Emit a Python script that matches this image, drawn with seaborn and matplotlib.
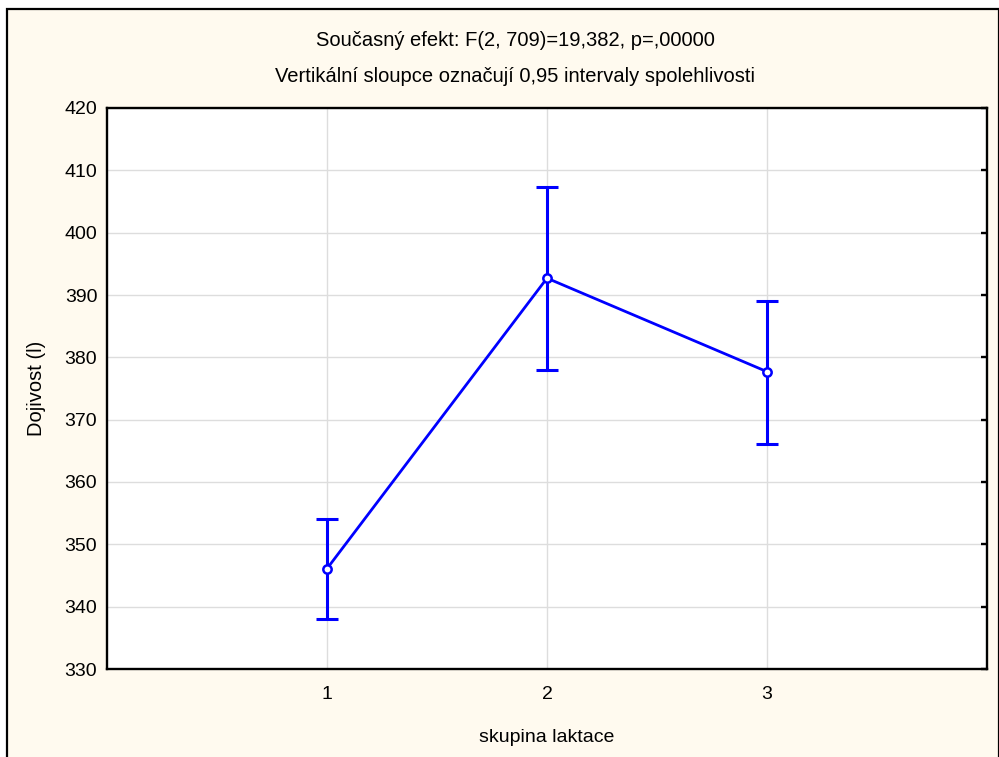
import numpy as np
import pandas as pd
import matplotlib
matplotlib.use("Agg")
import matplotlib.pyplot as plt
import matplotlib.patches as mpatches
import seaborn as sns

# ---- data ----
groups = [1, 2, 3]
group_labels = ["1", "2", "3"]
means = [346.1, 392.7, 377.7]
ci_low = [338.0, 378.0, 366.1]
ci_high = [354.1, 407.3, 389.1]
yticks = [330, 340, 350, 360, 370, 380, 390, 400, 410, 420]
title1 = "Současný efekt: F(2, 709)=19,382, p=,00000"
title2 = "Vertikální sloupce označují 0,95 intervaly spolehlivosti"
xlabel = "skupina laktace"
ylabel = "Dojivost (l)"

sns.set_theme(style="white")
plt.rcParams['font.family'] = ['Liberation Sans', 'DejaVu Sans']

W, H = 999, 757
fig = plt.figure(figsize=(W / 100, H / 100), dpi=100, facecolor="white")
cream = "#FFFAEF"

# outer frame (STATISTICA style)
frame = mpatches.Rectangle((6.5 / W, -0.05), (998.5 - 6.5) / W, 1.05 - 8.5 / H,
                           transform=fig.transFigure, facecolor=cream,
                           edgecolor="black", linewidth=1.6, zorder=-10)
fig.patches.append(frame)

ax = fig.add_axes([107 / W, 1 - 669 / H, 880 / W, 561 / H])
ax.set_zorder(5)
ax.set_facecolor("white")

df = pd.DataFrame({"group": groups, "mean": means, "low": ci_low, "high": ci_high})
blue = "#0000FF"

yerr = np.array([df["mean"] - df["low"], df["high"] - df["mean"]])
ax.errorbar(df["group"], df["mean"], yerr=yerr, fmt="none", ecolor=blue,
            elinewidth=2.2, capsize=8, capthick=2.2, zorder=3)
sns.lineplot(data=df, x="group", y="mean", ax=ax, color=blue, linewidth=2.0,
             marker="o", markersize=6, markerfacecolor="white",
             markeredgecolor=blue, markeredgewidth=1.8, zorder=4)

ax.set_xlim(0, 4)
ax.set_ylim(330, 420)
ax.set_xticks(groups)
ax.set_xticklabels(group_labels)
ax.set_yticks(yticks)
ax.grid(True, color="#DDDDDD", linewidth=1.0, zorder=0)
ax.set_axisbelow(True)

for s in ax.spines.values():
    s.set_color("black")
    s.set_linewidth(1.7)
    s.set_visible(True)

ax.tick_params(axis="both", which="both", direction="in", length=4, width=1.7,
               colors="black", labelsize=14, top=False, right=True,
               labeltop=False, labelright=False)
ax.tick_params(axis="y", pad=7)
ax.tick_params(axis="x", pad=12)

ax.set_xlabel(xlabel, fontsize=14, color="black")
ax.xaxis.set_label_coords(0.5, -(737 - 669) / 561)
ax.xaxis.label.set_va("center")
ax.set_ylabel(ylabel, fontsize=14.5, color="black")
ax.yaxis.set_label_coords((37 - 107) / 880, 0.5)
ax.yaxis.label.set_va("center")

fig.text(515 / W, 1 - 40 / H, title1, ha="center", va="center", fontsize=14.5, color="black")
fig.text(515 / W, 1 - 76 / H, title2, ha="center", va="center", fontsize=14.5, color="black")

fig.savefig("out.png", dpi=100, facecolor=fig.get_facecolor())
